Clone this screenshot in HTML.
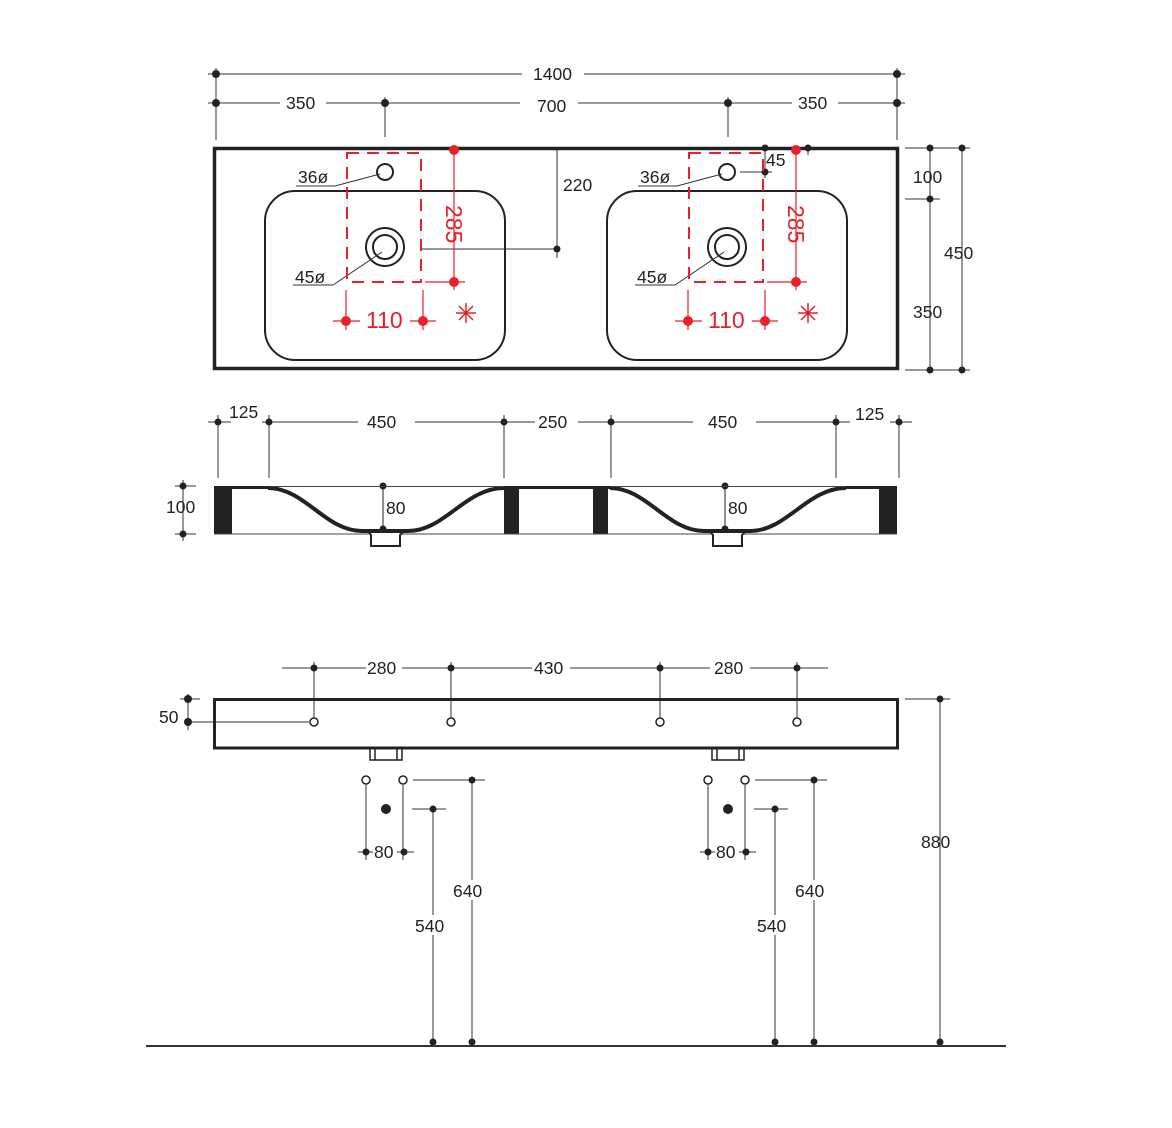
<!DOCTYPE html>
<html><head><meta charset="utf-8"><style>
html,body{margin:0;padding:0;background:#fff;}
svg{display:block}
text{font-family:"Liberation Sans",sans-serif;font-size:17.5px;fill:#222;}
.r{fill:#e8202a;font-size:23px}
</style></head><body>
<svg width="1172" height="1128" viewBox="0 0 1172 1128" xmlns="http://www.w3.org/2000/svg">
<defs>
<g id="basin">
  <rect x="265" y="191" width="240" height="169" rx="30" fill="none" stroke="#222" stroke-width="2"/>
  <circle cx="385" cy="172" r="8" fill="none" stroke="#222" stroke-width="2"/>
  <circle cx="385" cy="247" r="19" fill="none" stroke="#222" stroke-width="2"/>
  <circle cx="385" cy="247" r="12" fill="none" stroke="#222" stroke-width="2"/>
  <path d="M296 186H335L380 174" fill="none" stroke="#333" stroke-width="1"/>
  <path d="M293 285H333L382 252" fill="none" stroke="#333" stroke-width="1"/>
  <text x="298" y="183">36ø</text>
  <text x="295" y="283">45ø</text>
  <rect x="347" y="153" width="74" height="129" fill="none" stroke="#e8202a" stroke-width="2" stroke-dasharray="12,8"/>
  <path d="M454 150V290M425 282H465M346 290V330M423 290V330M333 321H360M410 321H436" stroke="#e8202a" stroke-width="1.2" fill="none"/>
  <circle cx="454" cy="150" r="5" fill="#e8202a"/>
  <circle cx="454" cy="282" r="5" fill="#e8202a"/>
  <circle cx="346" cy="321" r="5" fill="#e8202a"/>
  <circle cx="423" cy="321" r="5" fill="#e8202a"/>
  <text class="r" x="0" y="0" transform="translate(446,205) rotate(90)">285</text>
  <text class="r" x="366" y="328">110</text>
  <path d="M456 313H476M466 303V323M459 306L473 320M473 306L459 320" stroke="#e8202a" stroke-width="1.5"/>
  <!-- section bowl -->
  <path d="M268 488C305 488 325 531 362 531H408C445 531 465 488 504 488" fill="none" stroke="#222" stroke-width="4"/>
  <path d="M368 532L371 535V546H400V535L403 532" fill="none" stroke="#222" stroke-width="2"/>
  <path d="M383 486V529" stroke="#222" stroke-width="1"/>
  <circle cx="383" cy="486" r="3.5" fill="#222"/><circle cx="383" cy="529" r="3.5" fill="#222"/>
  <text x="386" y="514">80</text>
  <!-- elevation traps -->
  <path d="M370 749V760H402V749M375 749V760M397 749V760" fill="none" stroke="#222" stroke-width="1.5"/>
  <circle cx="366" cy="780" r="4" fill="#fff" stroke="#222" stroke-width="1.5"/>
  <circle cx="403" cy="780" r="4" fill="#fff" stroke="#222" stroke-width="1.5"/>
  <circle cx="386" cy="809" r="5" fill="#222"/>
  <path d="M366 785V860M403 785V860M358 852H414M413 780H485M472 780V1046M412 809H446M433 809V1046" stroke="#333" stroke-width="1"/>
  <circle cx="366" cy="852" r="3.5" fill="#222"/><circle cx="404" cy="852" r="3.5" fill="#222"/>
  <circle cx="472" cy="780" r="3.5" fill="#222"/><circle cx="433" cy="809" r="3.5" fill="#222"/>
  <circle cx="472" cy="1042" r="3.5" fill="#222"/><circle cx="433" cy="1042" r="3.5" fill="#222"/>
  <rect x="373" y="842" width="24" height="18" fill="#fff"/>
  <text x="374" y="858">80</text>
  <rect x="452" y="880" width="36" height="20" fill="#fff"/>
  <text x="453" y="897">640</text>
  <rect x="414" y="915" width="36" height="20" fill="#fff"/>
  <text x="415" y="932">540</text>
</g>
</defs>

<g stroke="#333" stroke-width="1" fill="none">
  <path d="M208 74H522M584 74H905M208 103H280M326 103H520M578 103H792M838 103H905"/>
  <path d="M216 68V140M897 68V140M385 97V137M728 97V137"/>
  <path d="M557 150V258M421 249H557"/>
  <path d="M905 148H970M905 199H940M905 370H970M930 148V370M962 148V370"/>
  <path d="M765 148V178M740 172H772M808 145V155"/>
  <path d="M208 422H231M262 422H358M415 422H535M578 422H693M756 422H850M890 422H912"/>
  <path d="M218 415V478M269 415V478M504 415V478M611 415V478M836 415V478M899 415V478"/>
  <path d="M175 486H196M175 534H196M183 480V541"/>
  <path d="M282 668H366M402 668H532M570 668H710M750 668H828"/>
  <path d="M314 662V718M451 662V718M660 662V718M797 662V718"/>
  <path d="M180 699H200M188 694V730M185 722H309"/>
  <path d="M905 699H950M940 699V1046"/>
</g>
<g fill="#222">
  <circle cx="216" cy="74" r="4"/><circle cx="897" cy="74" r="4"/>
  <circle cx="216" cy="103" r="4"/><circle cx="385" cy="103" r="4"/><circle cx="728" cy="103" r="4"/><circle cx="897" cy="103" r="4"/>
  <circle cx="557" cy="249" r="3.5"/>
  <circle cx="930" cy="148" r="3.5"/><circle cx="930" cy="199" r="3.5"/><circle cx="930" cy="370" r="3.5"/>
  <circle cx="962" cy="148" r="3.5"/><circle cx="962" cy="370" r="3.5"/>
  <circle cx="765" cy="148" r="3.5"/><circle cx="765" cy="172" r="3.5"/><circle cx="808" cy="148" r="3.5"/>
  <circle cx="218" cy="422" r="3.5"/><circle cx="269" cy="422" r="3.5"/><circle cx="504" cy="422" r="3.5"/>
  <circle cx="611" cy="422" r="3.5"/><circle cx="836" cy="422" r="3.5"/><circle cx="899" cy="422" r="3.5"/>
  <circle cx="183" cy="486" r="3.5"/><circle cx="183" cy="534" r="3.5"/>
  <circle cx="314" cy="668" r="3.5"/><circle cx="451" cy="668" r="3.5"/><circle cx="660" cy="668" r="3.5"/><circle cx="797" cy="668" r="3.5"/>
  <circle cx="188" cy="699" r="4"/><circle cx="188" cy="722" r="4"/>
  <circle cx="940" cy="699" r="3.5"/><circle cx="940" cy="1042" r="3.5"/>
</g>
<text x="533" y="80">1400</text>
<text x="286" y="109">350</text>
<text x="537" y="112">700</text>
<text x="798" y="109">350</text>
<text x="563" y="191">220</text>
<text x="766" y="166">45</text>
<text x="913" y="183">100</text>
<text x="944" y="259">450</text>
<text x="913" y="318">350</text>
<text x="229" y="418">125</text>
<text x="367" y="428">450</text>
<text x="538" y="428">250</text>
<text x="708" y="428">450</text>
<text x="855" y="420">125</text>
<text x="166" y="513">100</text>
<text x="367" y="674">280</text>
<text x="534" y="674">430</text>
<text x="714" y="674">280</text>
<text x="159" y="723">50</text>
<text x="921" y="848">880</text>

<rect x="214.5" y="148.5" width="683" height="220" fill="none" stroke="#222" stroke-width="3.5"/>
<use href="#basin"/>
<use href="#basin" transform="translate(342,0)"/>

<g fill="#222">
  <rect x="214" y="486" width="18" height="48"/>
  <rect x="504" y="486" width="15" height="48"/>
  <rect x="593" y="486" width="15" height="48"/>
  <rect x="879" y="486" width="18" height="48"/>
</g>
<path d="M214 534H368M402 534H710M744 534H897" stroke="#444" stroke-width="1"/>
<path d="M214 487.5H270M504 487.5H611M845 487.5H897" stroke="#222" stroke-width="3"/>
<path d="M270 486.5H504M611 486.5H845" stroke="#444" stroke-width="1"/>

<rect x="214.5" y="699.5" width="683" height="48.5" fill="none" stroke="#222" stroke-width="3"/>
<g fill="#fff" stroke="#222" stroke-width="1.5">
  <circle cx="314" cy="722" r="4"/><circle cx="451" cy="722" r="4"/><circle cx="660" cy="722" r="4"/><circle cx="797" cy="722" r="4"/>
</g>
<path d="M146 1046H1006" stroke="#333" stroke-width="2"/>
</svg>
</body></html>
